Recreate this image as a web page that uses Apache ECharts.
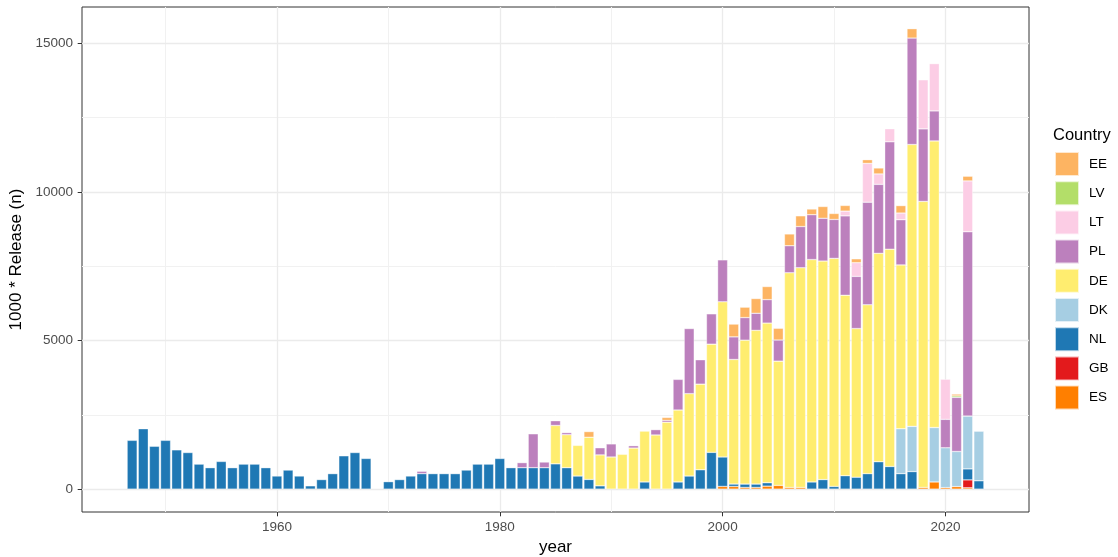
<!DOCTYPE html>
<html>
<head>
<meta charset="utf-8">
<script src="https://cdn.jsdelivr.net/npm/echarts@6/dist/echarts.min.js"></script>
<style>
html,body{margin:0;padding:0;background:#fff;}
#chart{width:1118px;height:557px;}
</style>
</head>
<body>
<div id="chart"></div>
<script>
// ---- data ----
// category band for every year on the axis (data run 1947-2023; outer years are axis padding)
const axisYears = [];
for (let y = 1943; y <= 2027; y++) axisYears.push(y);

const ES = [[2000,90],[2001,90],[2002,56],[2003,56],[2004,100],[2005,124],[2006,56],[2007,56],
            [2018,56],[2019,240],[2020,50],[2021,85],[2022,45]];
const GB = [[2022,265]];
const NL = [[1947,1640],[1948,2030],[1949,1440],[1950,1640],[1951,1320],[1952,1230],[1953,840],[1954,720],
            [1955,930],[1956,720],[1957,840],[1958,840],[1959,720],[1960,440],[1961,640],[1962,440],
            [1963,110],[1964,320],[1965,520],[1966,1120],[1967,1230],[1968,1030],[1970,250],[1971,320],
            [1972,440],[1973,520],[1974,520],[1975,520],[1976,520],[1977,640],[1978,840],[1979,840],
            [1980,1030],[1981,720],[1982,720],[1983,720],[1984,720],[1985,850],[1986,720],[1987,440],
            [1988,325],[1989,110],[1993,240],[1996,240],[1997,440],[1998,650],[1999,1235],[2000,990],
            [2001,80],[2002,113],[2003,113],[2004,113],[2008,240],[2009,320],[2010,90],[2011,450],
            [2012,400],[2013,520],[2014,920],[2015,760],[2016,520],[2017,590],[2022,370],[2023,280]];
const DK = [[2016,1510],[2017,1520],[2019,1830],[2020,1340],[2021,1180],[2022,1775],[2023,1667]];
const DE = [[1985,1290],[1986,1110],[1987,1030],[1988,1420],[1989,1040],[1990,1080],[1991,1170],[1992,1380],
            [1993,1710],[1994,1820],[1995,2250],[1996,2420],[1997,2770],[1998,2880],[1999,3640],[2000,5220],
            [2001,4190],[2002,4840],[2003,5170],[2004,5370],[2005,4180],[2006,7220],[2007,7390],[2008,7480],
            [2009,7350],[2010,7670],[2011,6070],[2012,5000],[2013,5680],[2014,7010],[2015,7310],[2016,5510],
            [2017,9480],[2018,9620],[2019,9640]];
const PL = [[1973,80],[1982,170],[1983,1140],[1984,190],[1985,160],[1986,70],[1989,240],[1990,440],
            [1992,80],[1994,180],[1995,60],[1996,1030],[1997,2190],[1998,820],[1999,1020],[2000,1410],
            [2001,760],[2002,760],[2003,575],[2004,790],[2005,710],[2006,910],[2007,1385],[2008,1510],
            [2009,1440],[2010,1310],[2011,2670],[2012,1755],[2013,3450],[2014,2320],[2015,3610],[2016,1520],
            [2017,3580],[2018,2440],[2019,1010],[2020,956],[2021,1820],[2022,6200]];
const LT = [[2011,160],[2012,460],[2013,1305],[2014,350],[2015,440],[2016,225],[2018,1650],[2019,1590],
            [2020,1350],[2022,1710]];
const LV = [[2021,50]];
const EE = [[1988,190],[1995,100],[2001,430],[2002,350],[2003,495],[2004,440],[2005,395],[2006,395],
            [2007,360],[2008,190],[2009,395],[2010,200],[2011,190],[2012,130],[2013,124],[2014,200],
            [2016,250],[2017,315],[2021,60],[2022,158]];

// stacking order bottom -> top
const countries = ['ES','GB','NL','DK','DE','PL','LT','LV','EE'];
const seriesValues = {ES, GB, NL, DK, DE, PL, LT, LV, EE};
const legendOrder = ['EE','LV','LT','PL','DE','DK','NL','GB','ES'];
const colors = {ES:'#FF7F00', GB:'#E31A1C', NL:'#1F78B4', DK:'#A6CEE3', DE:'#FFED6F',
                PL:'#BC80BD', LT:'#FCCDE5', LV:'#B3DE69', EE:'#FDB462'};

const xTicks = [1960, 1980, 2000, 2020];
const xMinor = [1950, 1970, 1990, 2010];
const yTicks = [0, 5000, 10000, 15000];
const yMinor = [2500, 7500, 12500];

const FONT = '"Liberation Sans", Arial, sans-serif';

const barSeries = countries.map(c => {
  const m = {};
  seriesValues[c].forEach(([y, v]) => { m[y] = v; });
  return {
    name: c,
    type: 'bar',
    stack: 'total',
    barWidth: 10,
    z: 2,
    itemStyle: { color: colors[c], borderColor: 'rgba(255,255,255,0.7)', borderWidth: 0.5 },
    emphasis: { disabled: true },
    data: axisYears.map(y => (m[y] != null ? m[y] : '-'))
  };
});

const gridSeries = {
  name: '_grid',
  type: 'line',
  data: [],
  silent: true,
  z: 0,
  markLine: {
    silent: true,
    z: 1,
    symbol: ['none', 'none'],
    label: { show: false },
    animation: false,
    data: [
      ...xMinor.map(v => ({ xAxis: String(v), lineStyle: { color: '#F1F1F1', width: 1, type: 'solid' } })),
      ...yMinor.map(v => ({ yAxis: v, lineStyle: { color: '#F1F1F1', width: 1, type: 'solid' } })),
      ...xTicks.map(v => ({ xAxis: String(v), lineStyle: { color: '#EBEBEB', width: 1.3, type: 'solid' } })),
      ...yTicks.map(v => ({ yAxis: v, lineStyle: { color: '#EBEBEB', width: 1.3, type: 'solid' } }))
    ]
  }
};

const isMajorYear = (idx, val) => xTicks.indexOf(Number(val)) >= 0;

const chart = echarts.init(document.getElementById('chart'), null, { renderer: 'canvas' });
chart.setOption({
  animation: false,
  backgroundColor: '#ffffff',
  textStyle: { fontFamily: FONT },
  title: {
    text: 'Country', left: 1053, top: 127, padding: 0,
    textStyle: { fontSize: 16.5, fontWeight: 'normal', color: '#000', fontFamily: FONT }
  },
  legend: {
    data: legendOrder,
    orient: 'vertical',
    left: 1054, top: 151, padding: 0,
    itemWidth: 24, itemHeight: 24, itemGap: 3.2,
    icon: 'rect',
    selectedMode: false,
    textStyle: { fontSize: 13.5, color: '#000', fontFamily: FONT, padding: [0, 0, 0, 5] }
  },
  grid: {
    left: 82, right: 89, top: 7, bottom: 45,
    show: true, borderColor: '#333333', borderWidth: 1, backgroundColor: '#ffffff',
    containLabel: false, outerBoundsMode: 'none'
  },
  xAxis: {
    type: 'category',
    data: axisYears.map(String),
    boundaryGap: true,
    name: 'year', nameLocation: 'middle', nameGap: 24,
    nameTextStyle: { fontSize: 17, color: '#000', fontFamily: FONT },
    axisLine: { show: false, onZero: false },
    splitLine: { show: false },
    axisTick: { show: true, alignWithLabel: true, interval: isMajorYear, length: 4.3,
                lineStyle: { color: '#333333', width: 1 } },
    axisLabel: { interval: isMajorYear, color: '#4D4D4D', fontSize: 13.5, margin: 8, fontFamily: FONT }
  },
  yAxis: {
    type: 'value', min: -770, max: 16215,
    name: '1000 * Release (n)', nameLocation: 'middle', nameGap: 44,
    nameTextStyle: { fontSize: 17, color: '#000', fontFamily: FONT },
    axisLine: { show: false, onZero: false },
    splitLine: { show: false },
    axisTick: { show: true, customValues: yTicks, length: 4.3, lineStyle: { color: '#333333', width: 1 } },
    axisLabel: { customValues: yTicks, formatter: v => String(v), color: '#4D4D4D', fontSize: 13.5,
                 margin: 9, fontFamily: FONT }
  },
  series: [gridSeries, ...barSeries]
});
</script>
</body>
</html>
